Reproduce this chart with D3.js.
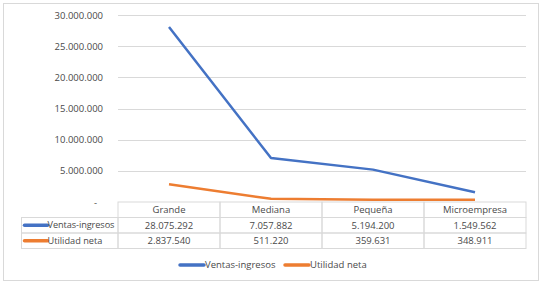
<!DOCTYPE html>
<html>
<head>
<meta charset="utf-8">
<script src="https://cdn.jsdelivr.net/npm/d3@7"></script>
<style>
  body { margin: 0; background: #fff; }
  text { font-family: "Open Sans", "Liberation Sans", sans-serif; fill: #4a4a4a; }
</style>
</head>
<body>
<div id="chart"></div>
<script>
// Line chart with data table (Excel style)

const width = 547,
    height = 286,
    margin = ({ top: 15, right: 21, bottom: 84, left: 118 });

const categories = ["Grande", "Mediana", "Pequeña", "Microempresa"];
const ventas = [28075292, 7057882, 5194200, 1549562];
const utilidad = [2837540, 511220, 359631, 348911];
const yTicks = [0, 5000000, 10000000, 15000000, 20000000, 25000000, 30000000];

const series = [
  { name: "Ventas-ingresos", values: ventas, color: "#4472C4" },
  { name: "Utilidad neta", values: utilidad, color: "#ED7D31" }
];

const fmt = v => v === 0 ? "-" : d3.format(",")(v).replace(/,/g, ".");

const svg = d3.select("#chart")
  .append("svg")
  .attr("width", width)
  .attr("height", height);

// outer frame
svg.append("rect")
  .attr("x", 3.5).attr("y", 3.5)
  .attr("width", 535).attr("height", 277)
  .attr("fill", "#fff")
  .attr("stroke", "#d9d9d9");

const x = d3.scaleBand()
  .domain(categories)
  .range([margin.left, width - margin.right]);

const y = d3.scaleLinear()
  .domain([0, 30000000])
  .range([height - margin.bottom, margin.top]);

// gridlines
svg.append("g")
  .selectAll("line")
  .data(yTicks.filter(d => d > 0))
  .join("line")
  .attr("x1", margin.left)
  .attr("x2", width - margin.right)
  .attr("y1", d => Math.round(y(d)) + 0.5)
  .attr("y2", d => Math.round(y(d)) + 0.5)
  .attr("stroke", "#d9d9d9");

// y axis labels
const yAxis = svg.append("g")
  .attr("transform", `translate(${margin.left - 15},0)`)
  .call(d3.axisLeft(y).tickValues(yTicks).tickFormat(fmt).tickSize(0));
yAxis.select(".domain").remove();
yAxis.selectAll("text")
  .attr("font-size", 9.5)
  .attr("fill", "#4a4a4a")
  .attr("font-family", "\"Open Sans\", sans-serif")
  .attr("x", d => d === 0 ? -6 : 0);

// lines
const line = d3.line()
  .x((d, i) => x(categories[i]) + x.bandwidth() / 2)
  .y(d => y(d));

svg.append("g")
  .selectAll("path")
  .data(series)
  .join("path")
  .attr("d", d => line(d.values))
  .attr("fill", "none")
  .attr("stroke", d => d.color)
  .attr("stroke-width", 2.5)
  .attr("stroke-linejoin", "round");

// data table
const rowH = 15.5,
    tableTop = y(0),
    tableLeft = 21.5;
const tbl = svg.append("g").attr("stroke", "#d9d9d9").attr("fill", "none");

// header row (categories)
tbl.selectAll("rect.head")
  .data(categories)
  .join("rect")
  .attr("class", "head")
  .attr("x", d => x(d))
  .attr("y", tableTop)
  .attr("width", x.bandwidth())
  .attr("height", rowH);

series.forEach((s, r) => {
  const ry = tableTop + rowH * (r + 1);
  tbl.append("rect")
    .attr("x", tableLeft)
    .attr("y", ry)
    .attr("width", margin.left - tableLeft)
    .attr("height", rowH);
  tbl.selectAll(null)
    .data(categories)
    .join("rect")
    .attr("x", d => x(d))
    .attr("y", ry)
    .attr("width", x.bandwidth())
    .attr("height", rowH);

  svg.append("line")
    .attr("x1", tableLeft + 3).attr("x2", tableLeft + 26)
    .attr("y1", ry + rowH / 2).attr("y2", ry + rowH / 2)
    .attr("stroke", s.color).attr("stroke-width", 3.5)
    .attr("stroke-linecap", "round");
  svg.append("text")
    .attr("x", tableLeft + 26)
    .attr("y", ry + rowH / 2)
    .attr("dy", "0.35em")
    .attr("font-size", 9.2)
    .attr("textLength", r === 0 ? 67 : null)
    .text(s.name);

  svg.append("g")
    .selectAll("text")
    .data(s.values)
    .join("text")
    .attr("x", (d, i) => x(categories[i]) + x.bandwidth() / 2)
    .attr("y", ry + rowH / 2)
    .attr("dy", "0.35em")
    .attr("text-anchor", "middle")
    .attr("font-size", 9.5)
    .text(fmt);
});

svg.append("g")
  .selectAll("text")
  .data(categories)
  .join("text")
  .attr("x", d => x(d) + x.bandwidth() / 2)
  .attr("y", tableTop + rowH / 2)
  .attr("dy", "0.35em")
  .attr("text-anchor", "middle")
  .attr("font-size", 9.5)
  .text(d => d);

// legend
const legendX = [180, 285];
const legend = svg.append("g")
  .selectAll("g")
  .data(series)
  .join("g")
  .attr("transform", (d, i) => `translate(${legendX[i]},265)`);
legend.append("line")
  .attr("x1", 0).attr("x2", 24)
  .attr("stroke", d => d.color).attr("stroke-width", 3.5)
  .attr("stroke-linecap", "round");
legend.append("text")
  .attr("x", 25)
  .attr("dy", "0.35em")
  .attr("font-size", 9.5)
  .text(d => d.name);
</script>
</body>
</html>
